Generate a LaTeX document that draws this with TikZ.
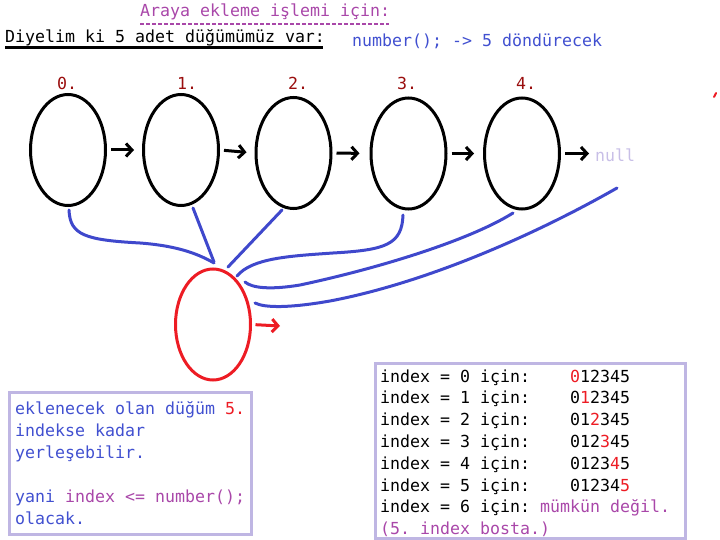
\documentclass[tikz,border=0pt]{standalone}
\usepackage{fontspec}
\usetikzlibrary{shapes.geometric,arrows.meta}
\newfontfamily\monof{DejaVu Sans Mono}
\definecolor{pblue}{HTML}{3F48CC}
\definecolor{tblue}{HTML}{4150D0}
\definecolor{ppurp}{HTML}{A947A9}
\definecolor{pred}{HTML}{ED1C24}
\definecolor{dred}{HTML}{9A0E0E}
\definecolor{lav}{HTML}{C8BFE7}
\definecolor{boxlav}{HTML}{BFB6E3}
\frenchspacing
\begin{document}
\begin{tikzpicture}[x=1pt,y=-1pt,
  txt/.style={anchor=base west, inner sep=0pt, font=\monof\fontsize{16.6}{20}\selectfont\frenchspacing},
  oval/.style={ellipse, draw, line width=3pt, minimum width=75pt, minimum height=111pt, inner sep=0pt, anchor=center},
  arr/.style={-{Straight Barb[length=6pt,width=13pt]}, line width=3pt},
  bl/.style={pblue, line width=3pt, line cap=round},
  boxframe/.style={draw=boxlav, line width=3pt}]
\useasboundingbox (0,0) rectangle (720,540);

% header
\node[txt, text=ppurp] (title) at (140,17) {Araya ekleme işlemi için:};
\draw[ppurp, line width=1.5pt, dash pattern=on 4pt off 2pt] (140,24) -- (389,24);
\node[txt] (given) at (5,43) {Diyelim ki 5 adet düğümümüz var:};
\draw[line width=3pt] (5,47.7) -- (323,47.7);
\node[txt, text=tblue] (ret) at (352,46.5) {number(); -> 5 döndürecek};

% index labels
\node[txt, text=dred] (n0) at (57,90) {0.};
\node[txt, text=dred] (n1) at (177,90) {1.};
\node[txt, text=dred] (n2) at (288,90) {2.};
\node[txt, text=dred] (n3) at (397,90) {3.};
\node[txt, text=dred] (n4) at (516,90) {4.};

% nodes
\node[oval] (e0) at (68,150) {};
\node[oval] (e1) at (181,150) {};
\node[oval] (e2) at (293.5,153) {};
\node[oval] (e3) at (408.5,153.5) {};
\node[oval] (e4) at (522,153.5) {};
\node[txt, text=lav] (null) at (595,162) {null};

\draw[arr, shorten <=4pt, shorten >=8pt] (e0.east) -- (e1.west);
\draw[arr, shorten <=4pt, shorten >=8pt] (e1.east) -- (e2.west);
\draw[arr, shorten <=4pt, shorten >=10pt] (e2.east) -- (e3.west);
\draw[arr, shorten <=4pt, shorten >=9pt] (e3.east) -- (e4.west);
\draw[arr, shorten <=4pt, shorten >=6pt] (e4.east) -- (null.west |- e4.east);

% new node
\node[oval, draw=pred] (r) at (213,324.5) {};
\coordinate (rt) at (280,326);
\draw[arr, pred, shorten <=3.5pt] (r.east) -- (rt);

% blue links
\coordinate (s0) at (69,210);
\coordinate (t0) at (214,263);
\coordinate (s1) at (193,208);
\coordinate (t1) at (214,262);
\coordinate (s2) at (282,210);
\coordinate (t2) at (228,267);
\coordinate (s3) at (403,215);
\coordinate (t3) at (237,276);
\coordinate (s4) at (513,213);
\coordinate (t4) at (245,282);
\coordinate (s5) at (617,188);
\coordinate (t5) at (255,303);
\draw[bl] (s0) .. controls (70,235) and (85,240) .. (140,243) .. controls (180,246) and (200,255) .. (t0);
\draw[bl] (s1) -- (t1);
\draw[bl] (s2) -- (t2);
\draw[bl] (s3) .. controls (402,245) and (385,250) .. (333,253) .. controls (290,256) and (252,258) .. (t3);
\draw[bl] (s4) .. controls (470,240) and (380,268) .. (300,285) .. controls (270,290) and (252,288) .. (t4);
\draw[bl] (s5) .. controls (540,232) and (430,282) .. (330,301) .. controls (290,308) and (265,308) .. (t5);

% stray mark
\draw[pred, line width=2pt, line cap=round] (714,97) -- (716,93);

% left box
\draw[boxframe] (9,392) rectangle (251,534);
\node[txt, text=tblue] (k0) at (15,414) {eklenecek olan düğüm \textcolor{pred}{5.}};
\node[txt, text=tblue] (k1) at (15,436) {indekse kadar};
\node[txt, text=tblue] (k2) at (15,458) {yerleşebilir.};
\node[txt, text=tblue] (k3) at (15,502) {yani \textcolor{ppurp}{index <= number();}};
\node[txt, text=tblue] (k4) at (15,524) {olacak.};

% right box
\draw[boxframe] (375,363) rectangle (685,538);
\node[txt] (i0) at (380,382) {index = 0 için:\phantom{0000}\textcolor{pred}{0}12345};
\node[txt] (i1) at (380,403.8) {index = 1 için:\phantom{0000}0\textcolor{pred}{1}2345};
\node[txt] (i2) at (380,425.6) {index = 2 için:\phantom{0000}01\textcolor{pred}{2}345};
\node[txt] (i3) at (380,447.4) {index = 3 için:\phantom{0000}012\textcolor{pred}{3}45};
\node[txt] (i4) at (380,469.2) {index = 4 için:\phantom{0000}0123\textcolor{pred}{4}5};
\node[txt] (i5) at (380,491) {index = 5 için:\phantom{0000}01234\textcolor{pred}{5}};
\node[txt] (i6) at (380,512.8) {index = 6 için: \textcolor{ppurp}{mümkün değil.}};
\node[txt, text=ppurp] (i7) at (380,534.6) {(5. index bosta.)};
\end{tikzpicture}
\end{document}
